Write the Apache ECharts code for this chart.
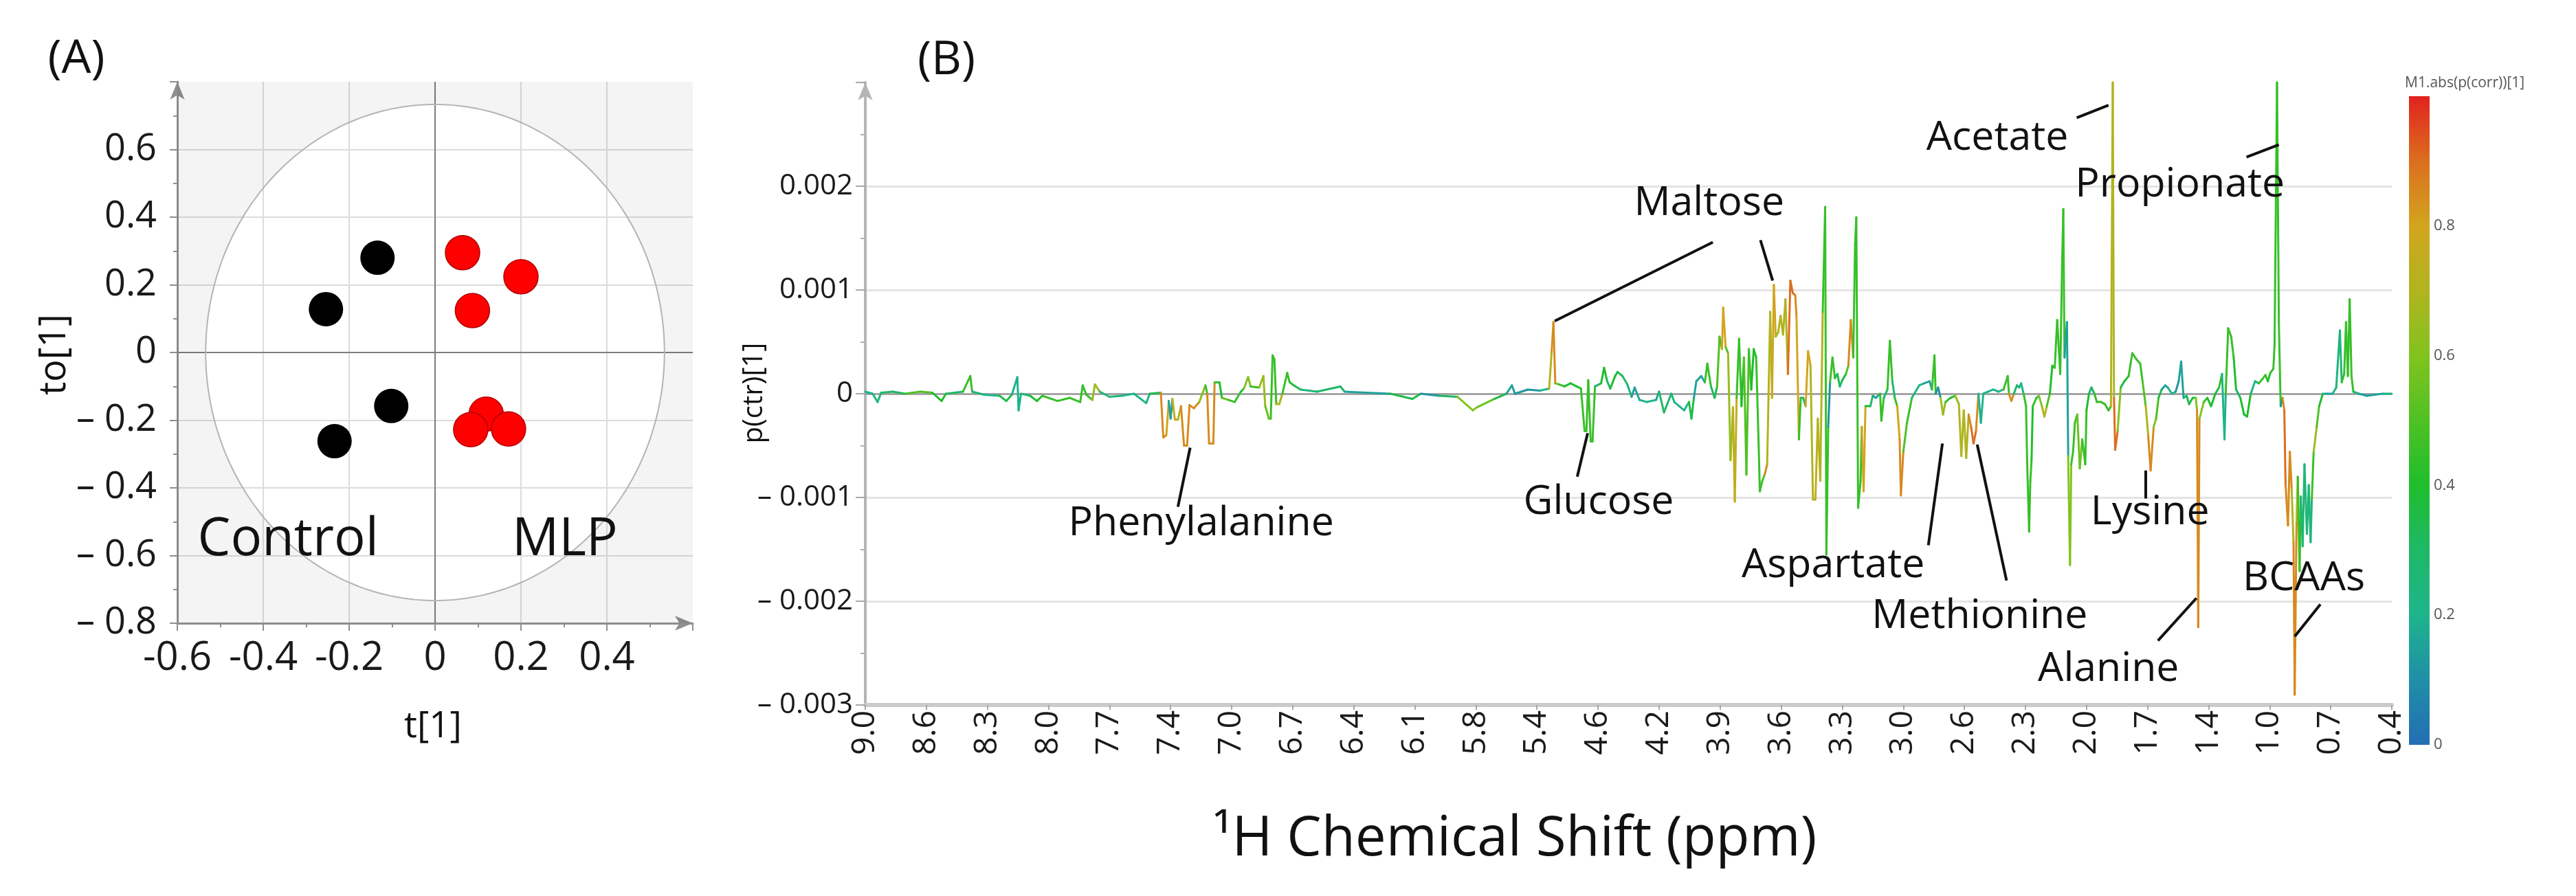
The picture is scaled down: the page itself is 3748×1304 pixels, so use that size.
<!DOCTYPE html>
<html><head><meta charset="utf-8">
<script src="https://cdn.jsdelivr.net/npm/echarts@6/dist/echarts.min.js"></script>
<style>html,body{margin:0;padding:0;background:#fff}#c{width:3748px;height:1304px}</style>
</head><body><div id="c"></div>
<script>
const FONT = '"Open Sans", "Noto Sans", sans-serif';

// ---------- Panel A: OPLS-DA scores ----------
const controlT  = [-0.134, -0.254, -0.102, -0.234];
const controlTo = [ 0.280,  0.128, -0.158, -0.262];
const mlpT  = [0.064, 0.200, 0.087, 0.119, 0.083, 0.171];
const mlpTo = [0.295, 0.224, 0.124, -0.182, -0.228, -0.226];
const T2_A = 0.534;   // Hotelling T2 ellipse semi-axis along t[1]
const T2_B = 0.733;   // Hotelling T2 ellipse semi-axis along to[1]
const groupNames = ['Control', 'MLP'];
const groupT  = [-0.342, 0.302];
const groupTo = [-0.555, -0.555];

// ---------- Panel B: loadings S-line ----------
const ppmLabels = ['9.0','8.6','8.3','8.0','7.7','7.4','7.0','6.7','6.4','6.1','5.8','5.4','4.6','4.2','3.9','3.6','3.3','3.0','2.6','2.3','2.0','1.7','1.4','1.0','0.7','0.4'];

// position along the (binned) shift axis, in tick-label units
const shiftIdx = [
0.00,0.12,0.20,0.26,0.45,0.65,0.90,1.10,1.25,1.32,1.60,1.72,1.75,1.95,2.20,2.31,2.40,2.49,2.51,2.55,
2.70,2.81,2.90,3.15,3.35,3.52,3.56,3.62,3.72,3.76,3.84,4.00,4.20,4.40,4.60,4.66,4.84,4.88,4.93,4.97,
5.00,5.03,5.07,5.12,5.17,5.22,5.27,5.31,5.38,5.47,5.57,5.60,5.63,5.70,5.72,5.80,5.84,5.95,6.05,6.15,
6.20,6.27,6.31,6.45,6.52,6.55,6.61,6.64,6.67,6.70,6.73,6.78,6.83,6.91,6.95,7.02,7.13,7.40,7.78,7.85,
8.20,8.60,8.96,9.10,9.40,9.70,9.95,10.02,10.30,10.50,10.59,10.64,10.85,11.05,11.20,11.24,11.27,11.30,11.36,11.45,
11.55,11.65,11.72,11.78,11.81,11.84,11.88,11.91,11.95,12.05,12.10,12.15,12.20,12.28,
12.32,12.40,12.48,12.55,12.60,12.68,12.80,12.95,13.00,13.08,13.20,13.25,13.33,13.41,13.49,13.53,13.57,13.61,13.69,13.75,
13.79,13.85,13.91,13.95,13.99,14.03,14.05,14.09,14.13,14.17,14.21,14.24,14.27,14.31,14.35,14.39,14.43,14.47,14.51,14.55,
14.59,14.63,14.65,14.69,14.73,14.77,14.82,14.85,14.88,14.91,14.95,14.99,15.03,15.07,15.11,15.15,15.19,15.23,15.25,15.29,
15.32,15.36,15.40,15.44,15.48,15.52,15.56,15.60,15.64,15.68,15.72,15.74,15.77,15.80,15.84,15.88,15.92,15.96,16.00,16.06,
16.10,16.14,16.18,16.21,16.23,16.26,16.30,16.32,16.35,16.38,16.46,16.50,16.55,16.62,16.64,16.68,16.74,16.78,16.82,16.86,
16.90,16.94,16.96,17.00,17.06,17.14,17.26,17.34,17.43,17.47,17.51,17.53,17.57,17.61,17.65,17.69,17.73,17.77,17.85,17.91,
17.95,17.99,18.03,18.07,18.11,18.15,18.19,18.23,18.27,18.31,18.39,18.47,
18.56,18.64,18.71,18.73,18.77,18.81,18.86,18.90,18.93,18.97,19.01,19.03,19.06,19.08,19.10,19.12,19.18,19.22,19.27,19.31,
19.35,19.40,19.44,19.48,19.52,19.57,19.60,19.62,19.64,19.68,19.70,19.73,19.75,19.78,19.81,19.85,19.89,19.93,19.98,20.00,
20.04,20.08,20.13,20.17,20.24,20.30,20.36,20.40,20.43,20.45,20.47,20.51,20.56,20.62,20.69,20.75,20.82,20.88,20.92,20.97,
21.01,21.05,21.10,21.14,21.18,21.23,21.29,21.33,21.40,21.46,21.51,21.55,21.59,21.64,21.68,21.74,21.79,21.81,21.83,21.85,
21.92,21.98,22.04,22.11,22.17,22.22,22.26,22.28,22.32,22.37,22.41,22.45,22.52,22.58,22.63,22.69,22.76,22.82,22.88,22.93,
22.97,23.01,23.06,23.08,23.12,23.15,23.18,23.21,23.24,23.26,23.30,23.33,23.36,23.39,23.41,23.44,23.46,23.49,23.51,23.54,
23.57,23.61,23.64,23.67,23.69,23.72,23.77,23.81,23.87,23.94,24.03,24.09,24.15,24.18,24.22,24.25,24.28,24.31,24.34,24.37,
24.46,24.59,24.72,24.85,25.00];

// p(ctr)[1] in units of 0.001
const pctrMilli = [
0.02,0.00,-0.08,0.01,0.02,0.00,0.02,0.01,-0.07,0.00,0.02,0.17,0.02,-0.01,-0.02,-0.07,-0.01,0.16,-0.16,0.00,
-0.02,-0.07,-0.02,-0.07,-0.04,-0.08,0.08,-0.01,-0.06,0.09,0.02,-0.03,-0.02,0.00,-0.09,0.00,0.01,-0.42,-0.40,-0.07,
-0.24,-0.05,-0.25,-0.25,-0.12,-0.50,-0.50,-0.11,-0.14,-0.08,0.08,0.00,-0.48,-0.48,0.11,0.11,-0.04,-0.06,-0.08,0.02,
0.05,0.16,0.07,0.06,0.17,-0.12,-0.24,-0.24,0.37,0.33,-0.10,-0.10,0.00,0.20,0.11,0.08,0.04,0.02,0.07,0.02,
0.01,0.00,-0.05,0.00,-0.02,-0.03,-0.16,-0.13,-0.05,0.00,0.08,0.00,0.04,0.03,0.05,0.40,0.69,0.10,0.09,0.07,
0.10,0.07,0.05,-0.36,-0.36,0.13,-0.46,-0.46,0.07,0.10,0.25,0.12,0.05,0.17,
0.21,0.17,0.09,-0.03,0.06,-0.06,-0.08,-0.06,0.02,-0.18,0.00,-0.08,-0.12,-0.16,-0.08,-0.24,-0.04,0.12,0.17,0.11,
0.29,0.07,-0.04,0.07,0.55,0.43,0.83,0.45,0.39,-0.64,-0.13,-1.04,-0.04,0.53,-0.12,0.35,-0.78,0.43,0.04,0.43,
0.35,-0.48,-0.94,-0.84,-0.78,-0.68,0.79,-0.04,1.05,0.55,0.59,0.75,0.57,0.91,0.19,1.09,0.97,0.95,0.75,-0.44,
-0.04,-0.04,-0.12,0.41,0.27,-1.02,-1.02,-0.24,-0.84,0.79,1.80,-1.55,-0.32,0.11,0.35,0.15,0.19,0.07,0.13,0.19,
0.27,0.71,0.35,1.44,1.70,-1.10,-0.84,-0.32,-0.94,-0.12,-0.12,-0.02,-0.04,0.00,-0.26,-0.04,0.04,0.51,0.12,-0.04,
-0.12,-0.44,-0.98,-0.56,-0.28,-0.04,0.08,0.10,0.12,0.04,0.37,0.00,0.06,-0.04,-0.20,-0.08,-0.06,-0.04,-0.02,-0.10,
-0.60,-0.16,-0.62,-0.20,-0.32,-0.48,-0.36,0.00,-0.28,0.00,0.02,0.04,
0.02,0.04,0.17,0.00,-0.07,0.00,0.08,0.06,0.10,0.00,-0.12,-0.70,-1.33,-0.84,-0.64,-0.12,-0.04,-0.02,-0.12,-0.22,
-0.12,0.00,0.27,0.25,0.71,0.19,1.23,1.78,0.35,0.69,-0.60,-1.65,-0.68,-0.56,-0.28,-0.20,-0.72,-0.44,-0.68,-0.16,
0.00,0.06,0.00,-0.08,-0.08,-0.10,-0.16,-0.12,3.00,-0.04,-0.54,-0.36,0.06,0.12,0.17,0.39,0.33,0.29,0.11,-0.12,
-0.40,-0.74,-0.32,-0.24,-0.04,0.04,0.08,0.06,0.00,0.02,0.12,0.31,-0.04,-0.02,-0.10,-0.04,-0.04,-0.16,-2.25,-0.24,
-0.08,-0.04,-0.12,0.00,0.06,0.19,-0.44,0.00,0.63,0.55,0.35,0.04,-0.04,-0.20,-0.22,0.00,0.12,0.10,0.14,0.18,
0.12,0.20,0.24,0.47,3.00,0.69,-0.12,-0.04,-0.16,-0.88,-1.27,-0.56,-0.92,-1.43,-2.90,-1.23,-0.80,-1.71,-0.99,-1.47,
-0.68,-1.35,-0.88,-1.43,-1.02,-0.56,-0.32,-0.12,0.00,0.00,0.00,0.06,0.61,0.11,0.19,0.69,0.17,0.91,0.17,0.02,
0.00,-0.02,-0.01,0.00,0.00];

// M1.abs(p(corr))[1]
const absCorr = [
0.20,0.15,0.25,0.20,0.30,0.20,0.50,0.25,0.40,0.20,0.30,0.45,0.25,0.20,0.20,0.35,0.15,0.20,0.20,0.15,
0.25,0.40,0.30,0.45,0.40,0.45,0.45,0.30,0.45,0.65,0.40,0.25,0.20,0.15,0.20,0.20,0.35,0.85,0.80,0.60,
0.15,0.50,0.75,0.70,0.55,0.85,0.85,0.90,0.85,0.60,0.45,0.60,0.85,0.85,0.45,0.40,0.65,0.55,0.45,0.40,
0.40,0.60,0.45,0.50,0.65,0.15,0.55,0.60,0.45,0.45,0.70,0.70,0.40,0.45,0.40,0.35,0.25,0.15,0.30,0.15,
0.15,0.12,0.35,0.15,0.12,0.30,0.60,0.55,0.35,0.20,0.15,0.12,0.12,0.12,0.20,0.70,0.85,0.55,0.45,0.40,
0.40,0.40,0.30,0.45,0.45,0.15,0.45,0.45,0.25,0.30,0.40,0.30,0.20,0.40,
0.35,0.30,0.25,0.12,0.15,0.15,0.20,0.15,0.15,0.30,0.20,0.25,0.20,0.20,0.25,0.35,0.20,0.15,0.15,0.20,
0.45,0.30,0.12,0.35,0.50,0.55,0.80,0.50,0.45,0.65,0.45,0.75,0.40,0.45,0.20,0.40,0.50,0.45,0.20,0.40,
0.40,0.45,0.45,0.50,0.85,0.70,0.70,0.12,0.80,0.65,0.65,0.70,0.65,0.70,0.45,0.90,0.90,0.85,0.80,0.45,
0.35,0.12,0.30,0.80,0.70,0.70,0.75,0.85,0.70,0.50,0.45,0.45,0.12,0.30,0.45,0.35,0.35,0.30,0.30,0.35,
0.50,0.85,0.60,0.45,0.45,0.45,0.45,0.90,0.80,0.40,0.30,0.20,0.15,0.20,0.45,0.25,0.25,0.45,0.25,0.20,
0.45,0.80,0.85,0.50,0.45,0.30,0.25,0.20,0.15,0.20,0.45,0.20,0.12,0.20,0.65,0.45,0.45,0.40,0.40,0.65,
0.70,0.70,0.70,0.75,0.85,0.90,0.85,0.12,0.20,0.20,0.20,0.20,
0.20,0.25,0.45,0.20,0.85,0.25,0.30,0.15,0.20,0.25,0.45,0.45,0.45,0.45,0.40,0.45,0.35,0.30,0.60,0.70,
0.50,0.30,0.40,0.35,0.45,0.20,0.45,0.45,0.12,0.15,0.12,0.60,0.45,0.45,0.45,0.65,0.55,0.50,0.45,0.40,
0.30,0.30,0.35,0.45,0.45,0.45,0.45,0.55,0.70,0.60,0.90,0.60,0.30,0.35,0.40,0.45,0.45,0.45,0.40,0.50,
0.70,0.85,0.60,0.50,0.35,0.25,0.15,0.20,0.20,0.20,0.12,0.15,0.20,0.20,0.35,0.40,0.35,0.60,0.85,0.60,
0.45,0.35,0.40,0.30,0.35,0.45,0.20,0.30,0.45,0.45,0.40,0.30,0.30,0.40,0.40,0.30,0.25,0.40,0.45,0.45,
0.35,0.40,0.45,0.45,0.45,0.45,0.12,0.40,0.85,0.90,0.85,0.90,0.85,0.70,0.85,0.70,0.50,0.45,0.45,0.25,
0.35,0.25,0.35,0.25,0.45,0.65,0.50,0.40,0.20,0.15,0.20,0.20,0.25,0.30,0.45,0.45,0.45,0.45,0.45,0.25,
0.20,0.15,0.15,0.20,0.15];

const corrColors = ['#236eb4','#1f8fa8','#1eb48c','#1fb866','#1ebe2c','#4fc124','#82c31e','#b0b41f','#d2a51e','#dc6e1e','#e1231e'];

// annotations (position in shift-index units, p(ctr) in units of 0.001)
const annoNames = ['Phenylalanine','Glucose','Maltose','Acetate','Propionate','Aspartate','Methionine','Lysine','Alanine','BCAAs'];
const annoIdx   = [5.50, 12.01, 13.82, 18.54, 21.53, 15.85, 18.25, 21.04, 20.36, 23.56];
const annoMilli = [-1.25, -1.05, 1.83, 2.46, 2.01, -1.66, -2.15, -1.15, -2.66, -1.78];
const leaderSegments = [
  [5.32,-0.52, 5.12,-1.09],
  [11.83,-0.38, 11.66,-0.80],
  [11.29,0.70, 13.88,1.46],
  [14.66,1.48, 14.86,1.09],
  [19.84,2.66, 20.36,2.78],
  [22.62,2.28, 23.15,2.40],
  [17.41,-1.46, 17.64,-0.48],
  [18.69,-1.80, 18.21,-0.49],
  [20.97,-0.74, 20.97,-1.01],
  [21.17,-2.38, 21.80,-1.97],
  [23.83,-2.03, 23.41,-2.34]
];

// ---------- build ----------
const segData = [];
for (let i = 0; i < shiftIdx.length - 1; i++) {
  const a = pctrMilli[i], b = pctrMilli[i + 1];
  const c = Math.abs(a) >= Math.abs(b) ? absCorr[i] : absCorr[i + 1];
  segData.push([shiftIdx[i], a / 1000, shiftIdx[i + 1], b / 1000, c]);
}

function fmtAx(v) { if (v > 0.59) return ''; if (Math.abs(v) < 1e-9) return '0'; return v.toFixed(1); }
function fmtAy(v) { if (v > 0.79) return ''; if (Math.abs(v) < 1e-9) return '0'; return v < 0 ? '\u2013 ' + (-v).toFixed(1) : v.toFixed(1); }
function fmtBy(v) { if (v > 0.0029) return ''; if (Math.abs(v) < 1e-12) return '0'; return v < 0 ? '\u2013 ' + (-v).toFixed(3) : v.toFixed(3); }

function textEl(x, y, text, size, extra) {
  return Object.assign({
    type: 'text', x: x, y: y, silent: true,
    style: { text: text, fontSize: size, fontFamily: FONT, fill: '#111', align: 'center', verticalAlign: 'middle' }
  }, extra || {});
}

const chart = echarts.init(document.getElementById('c'), null, { renderer: 'canvas', width: 3748, height: 1304 });

const option = {
  animation: false,
  backgroundColor: '#ffffff',
  grid: [
    { left: 258, top: 119, width: 750, height: 788 },
    { left: 1259, top: 120, width: 2221, height: 906 },
    { left: 3505, top: 140, width: 30, height: 944 }
  ],
  xAxis: [
    { gridIndex: 0, type: 'value', min: -0.6, max: 0.6, interval: 0.2,
      axisLine: { onZero: false, symbol: ['none', 'arrow'], symbolSize: [16, 26], lineStyle: { color: '#8f8f8f', width: 3 } },
      axisTick: { length: 11, lineStyle: { color: '#8f8f8f', width: 2 } },
      minorTick: { show: true, splitNumber: 2, length: 6, lineStyle: { color: '#8f8f8f', width: 2 } },
      splitLine: { show: true, showMinLine: false, showMaxLine: false, lineStyle: { color: '#dcdcdc', width: 2 } },
      axisLabel: { fontSize: 58, margin: 22, fontFamily: FONT, color: '#1a1a1a', formatter: fmtAx } },
    { gridIndex: 1, type: 'value', min: 0, max: 25, interval: 1,
      axisLine: { onZero: false, lineStyle: { color: '#cbcbcb', width: 6 } },
      axisTick: { length: 7, lineStyle: { color: '#a8a8a8', width: 2 } },
      splitLine: { show: false },
      axisLabel: { rotate: 90, fontSize: 46, margin: 8, fontFamily: FONT, color: '#1a1a1a',
        formatter: function (v) { return ppmLabels[Math.round(v)] || ''; } } },
    { gridIndex: 2, type: 'value', min: 0, max: 1, show: false }
  ],
  yAxis: [
    { gridIndex: 0, type: 'value', min: -0.8, max: 0.8, interval: 0.2,
      axisLine: { onZero: false, show: true, symbol: ['none', 'arrow'], symbolSize: [16, 26], lineStyle: { color: '#8f8f8f', width: 3 } },
      axisTick: { show: true, length: 11, lineStyle: { color: '#8f8f8f', width: 2 } },
      minorTick: { show: true, splitNumber: 2, length: 6, lineStyle: { color: '#8f8f8f', width: 2 } },
      splitLine: { show: true, showMinLine: false, showMaxLine: false, lineStyle: { color: '#dcdcdc', width: 2 } },
      axisLabel: { fontSize: 54, margin: 30, fontFamily: FONT, color: '#1a1a1a', formatter: fmtAy } },
    { gridIndex: 1, type: 'value', min: -0.003, max: 0.003, interval: 0.001,
      axisLine: { onZero: false, show: true, symbol: ['none', 'arrow'], symbolSize: [16, 26], lineStyle: { color: '#b5b5b5', width: 4 } },
      axisTick: { show: true, length: 14, lineStyle: { color: '#a8a8a8', width: 2 } },
      minorTick: { show: true, splitNumber: 2, length: 7, lineStyle: { color: '#b0b0b0', width: 2 } },
      splitLine: { show: true, showMinLine: false, showMaxLine: false, lineStyle: { color: '#e4e4e4', width: 3 } },
      axisLabel: { fontSize: 42, margin: 18, fontFamily: FONT, color: '#1a1a1a', formatter: fmtBy } },
    { gridIndex: 2, type: 'value', min: 0, max: 1, interval: 0.2, position: 'right',
      axisLine: { show: false }, axisTick: { show: false }, splitLine: { show: false },
      axisLabel: { fontSize: 22, margin: 6, fontFamily: FONT, color: '#555',
        formatter: function (v) { return v > 0.99 ? '' : (v === 0 ? '0' : v.toFixed(1)); } } }
  ],
  visualMap: [{
    type: 'continuous', show: false, seriesIndex: 4, dimension: 4, min: 0, max: 1,
    inRange: { color: corrColors }
  }],
  series: [
    { // T2 ellipse + grey outside region
      type: 'custom', xAxisIndex: 0, yAxisIndex: 0, z: 1, silent: true,
      data: [[0, 0]],
      renderItem: function (params, api) {
        const N = 180, upper = [], lower = [];
        for (let k = 0; k <= N; k++) {
          const th = Math.PI * k / N;
          upper.push(api.coord([T2_A * Math.cos(th), T2_B * Math.sin(th)]));
          lower.push(api.coord([T2_A * Math.cos(th), -T2_B * Math.sin(th)]));
        }
        const cs = params.coordSys;
        const L = cs.x, R = cs.x + cs.width, T = cs.y, B = cs.y + cs.height;
        const ym = api.coord([0, 0])[1];
        const topPoly = upper.concat([[L, ym], [L, T], [R, T], [R, ym]]);
        const botPoly = lower.concat([[L, ym], [L, B], [R, B], [R, ym]]);
        const outline = upper.concat(lower.slice().reverse());
        return { type: 'group', children: [
          { type: 'polygon', shape: { points: topPoly }, style: { fill: 'rgba(0,0,0,0.045)' } },
          { type: 'polygon', shape: { points: botPoly }, style: { fill: 'rgba(0,0,0,0.045)' } },
          { type: 'polyline', shape: { points: outline }, style: { stroke: '#b4b4b4', lineWidth: 2, fill: null } }
        ] };
      },
      markLine: { silent: true, z: 1, symbol: ['none', 'none'], label: { show: false },
        lineStyle: { color: '#7d7d7d', width: 2, type: 'solid' },
        data: [{ xAxis: 0 }, { yAxis: 0 }] }
    },
    { type: 'scatter', name: 'Control', xAxisIndex: 0, yAxisIndex: 0, z: 3, symbolSize: 50,
      itemStyle: { color: '#000000', opacity: 1 },
      data: controlT.map(function (t, i) { return [t, controlTo[i]]; }) },
    { type: 'scatter', name: 'MLP', xAxisIndex: 0, yAxisIndex: 0, z: 3, symbolSize: 50,
      itemStyle: { color: '#ff0000', borderColor: '#b00000', borderWidth: 1.5, opacity: 1 },
      data: mlpT.map(function (t, i) { return [t, mlpTo[i]]; }) },
    { type: 'custom', xAxisIndex: 0, yAxisIndex: 0, z: 4, silent: true,
      data: groupT.map(function (t, i) { return [t, groupTo[i]]; }),
      renderItem: function (params, api) {
        const p = api.coord([api.value(0), api.value(1)]);
        return textEl(p[0], p[1], groupNames[params.dataIndex], 76, {});
      } },
    { // spectrum segments
      type: 'custom', xAxisIndex: 1, yAxisIndex: 1, z: 2, silent: true,
      encode: { x: [0, 2], y: [1, 3] },
      data: segData,
      renderItem: function (params, api) {
        const p0 = api.coord([api.value(0), api.value(1)]);
        const p1 = api.coord([api.value(2), api.value(3)]);
        return { type: 'line', shape: { x1: p0[0], y1: p0[1], x2: p1[0], y2: p1[1] },
          style: { stroke: api.visual('color'), lineWidth: 3, lineCap: 'round' } };
      }
    },
    { // leader lines
      type: 'custom', xAxisIndex: 1, yAxisIndex: 1, z: 3, silent: true,
      data: leaderSegments.map(function (s) { return [s[0], s[1] / 1000, s[2], s[3] / 1000]; }),
      encode: { x: [0, 2], y: [1, 3] },
      renderItem: function (params, api) {
        const p0 = api.coord([api.value(0), api.value(1)]);
        const p1 = api.coord([api.value(2), api.value(3)]);
        return { type: 'line', shape: { x1: p0[0], y1: p0[1], x2: p1[0], y2: p1[1] },
          style: { stroke: '#111', lineWidth: 4 } };
      }
    },
    { // annotation texts + zero line
      type: 'custom', xAxisIndex: 1, yAxisIndex: 1, z: 4, silent: true,
      data: annoIdx.map(function (x, i) { return [x, annoMilli[i] / 1000]; }),
      renderItem: function (params, api) {
        const p = api.coord([api.value(0), api.value(1)]);
        return textEl(p[0], p[1], annoNames[params.dataIndex], 59, {});
      },
      markLine: { silent: true, z: 1, symbol: ['none', 'none'], label: { show: false },
        lineStyle: { color: '#9a9a9a', width: 2.5, type: 'solid' },
        data: [{ yAxis: 0 }] }
    },
    { // colour bar
      type: 'custom', xAxisIndex: 2, yAxisIndex: 2, z: 2, silent: true,
      data: [[0, 0, 1, 1]],
      renderItem: function (params, api) {
        const p0 = api.coord([api.value(0), api.value(3)]);
        const p1 = api.coord([api.value(2), api.value(1)]);
        const stops = corrColors.map(function (c, i) { return { offset: i / (corrColors.length - 1), color: c }; });
        return { type: 'rect', shape: { x: p0[0], y: p0[1], width: p1[0] - p0[0], height: p1[1] - p0[1] },
          style: { fill: new echarts.graphic.LinearGradient(0, 1, 0, 0, stops) } };
      }
    }
  ],
  graphic: [
    textEl(111, 87, '(A)', 68),
    textEl(1377, 89, '(B)', 68),
    textEl(80, 516, 'to[1]', 54, { rotation: Math.PI / 2 }),
    textEl(630, 1058, 't[1]', 53),
    textEl(1098, 572, 'p(ctr)[1]', 40, { rotation: Math.PI / 2 }),
    textEl(2204, 1222, '\u00B9H Chemical Shift (ppm)', 80),
    { type: 'text', x: 3499, y: 121, silent: true,
      style: { text: 'M1.abs(p(corr))[1]', fontSize: 21, fontFamily: FONT, fill: '#555', align: 'left', verticalAlign: 'middle' } }
  ]
};
chart.setOption(option);
</script>
</body></html>
